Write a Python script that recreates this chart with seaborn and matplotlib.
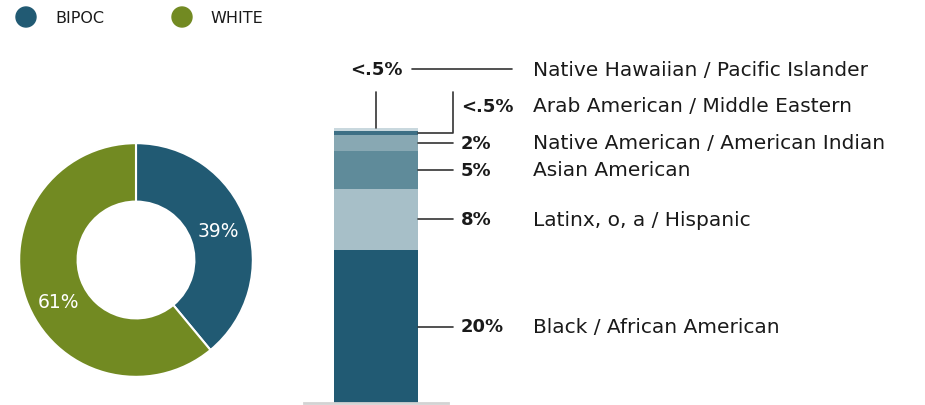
import matplotlib
matplotlib.use("Agg")
import matplotlib.pyplot as plt
from matplotlib.transforms import Affine2D, blended_transform_factory
import seaborn as sns
import pandas as pd
import numpy as np

sns.set_theme(style="white")
plt.rcParams["font.family"] = ["DejaVu Sans"]

# Overall split
groups = ["BIPOC", "WHITE"]
group_share = [39, 61]
group_colors = ["#215a73", "#728a22"]

# BIPOC breakdown, bottom to top of the stacked bar
categories = [
    "Black / African American",
    "Latinx, o, a / Hispanic",
    "Asian American",
    "Native American / American Indian",
    "Arab American / Middle Eastern",
    "Native Hawaiian / Pacific Islander",
]
shares = [20, 8, 5, 2, 0.5, 0.5]
share_labels = ["20%", "8%", "5%", "2%", "<.5%", "<.5%"]
seg_colors = ["#215a73", "#a7bfc8", "#5f8b9a", "#88a8b3", "#3d6f85", "#c9d8de"]

W, H, DPI = 925, 406, 100
fig = plt.figure(figsize=(W / DPI, H / DPI), dpi=DPI)
fig.patch.set_facecolor("white")
TXT = "#1a1a1a"
LINE = "#333333"
CAT_FS = 14.5
PCT_FS = 13

pxT = Affine2D().scale(1 / DPI) + fig.dpi_scale_trans


def px_axes(x0, y0_top, w, h):
    """Axes placed by pixel box measured from the top-left corner."""
    return fig.add_axes([x0 / W, 1 - (y0_top + h) / H, w / W, h / H])


# ---- legend ----
for cx, tx, name, col in zip([26, 182], [55, 210], groups, group_colors):
    fig.patches.append(plt.Circle((cx, H - 18), 10, transform=pxT, color=col, zorder=5))
    fig.text(tx, H - 19, name, transform=pxT, fontsize=11.5, color=TXT,
             va="center", ha="left")

# ---- donut ----
R = 118
axd = px_axes(136 - R, 261 - R, 2 * R, 2 * R)
wedges, _, autotexts = axd.pie(
    group_share, colors=group_colors, startangle=90, counterclock=False,
    radius=1, wedgeprops=dict(width=0.5, edgecolor="white", linewidth=1.5),
    autopct=lambda p: f"{p:.0f}%", pctdistance=0.75,
    textprops=dict(color="white", fontsize=13.5),
)
# nudge the larger wedge's label a little further round the ring
ang = np.deg2rad(208)
autotexts[1].set_position((0.75 * np.cos(ang), 0.75 * np.sin(ang)))
axd.set_xlim(-1.01, 1.01)
axd.set_ylim(-1.01, 1.01)
axd.set_aspect("equal")
axd.axis("off")

# ---- stacked bar ----
PXPER = 7.65
axb = px_axes(304, 0, 144, 404)
df = pd.DataFrame({"cat": categories, "share": shares, "color": seg_colors})
df["top"] = df["share"].cumsum()
df["bottom"] = df["top"] - df["share"]
df["mid"] = df["bottom"] + df["share"] / 2
for i in range(len(df) - 1, -1, -1):
    sns.barplot(x=[0], y=[df["top"].iloc[i]], color=df["color"].iloc[i],
                width=84 / 144, saturation=1, ax=axb, linewidth=0, zorder=2)
axb.set_xlim(-0.5, 0.5)
axb.set_ylim(0, 404 / PXPER)
for s in ["top", "right", "left"]:
    axb.spines[s].set_visible(False)
axb.spines["bottom"].set_color("#d3d3d3")
axb.spines["bottom"].set_linewidth(2)
axb.set_xticks([])
axb.set_yticks([])
axb.set_xlabel("")
axb.set_ylabel("")
axb.set_facecolor("none")

tr = blended_transform_factory(pxT, axb.transData)


def y_of(py):
    return (404 - py) / PXPER


LX_PCT, LX_CAT = 461, 533
# segments with straight leaders
for i in range(4):
    ym = df["mid"].iloc[i]
    axb.plot([418, 453], [ym, ym], color=LINE, lw=1.2, transform=tr, clip_on=False)
    axb.text(LX_PCT, ym, share_labels[i], transform=tr, fontsize=PCT_FS, fontweight="bold",
             color=TXT, va="center", ha="left")
    axb.text(LX_CAT, ym, categories[i], transform=tr, fontsize=CAT_FS, color=TXT,
             va="center", ha="left")

# Arab American / Middle Eastern: elbow leader
ym = df["mid"].iloc[4]
ylab = y_of(107)
axb.plot([418, 453, 453], [ym, ym, y_of(93)], color=LINE, lw=1.2, transform=tr, clip_on=False)
axb.text(LX_PCT, ylab, share_labels[4], transform=tr, fontsize=PCT_FS, fontweight="bold",
         color=TXT, va="center", ha="left")
axb.text(LX_CAT, ylab, categories[4], transform=tr, fontsize=CAT_FS, color=TXT,
         va="center", ha="left")

# Native Hawaiian / Pacific Islander: vertical leader from bar top
ytop = df["top"].iloc[5]
ylab = y_of(70)
axb.plot([376, 376], [ytop, y_of(93)], color=LINE, lw=1.2, transform=tr, clip_on=False)
axb.text(376, ylab, share_labels[5], transform=tr, fontsize=PCT_FS, fontweight="bold",
         color=TXT, va="center", ha="center")
axb.plot([412, 512], [ylab, ylab], color=LINE, lw=1.2, transform=tr, clip_on=False)
axb.text(LX_CAT, ylab, categories[5], transform=tr, fontsize=CAT_FS, color=TXT,
         va="center", ha="left")

fig.savefig("out.png", dpi=DPI, facecolor="white")
